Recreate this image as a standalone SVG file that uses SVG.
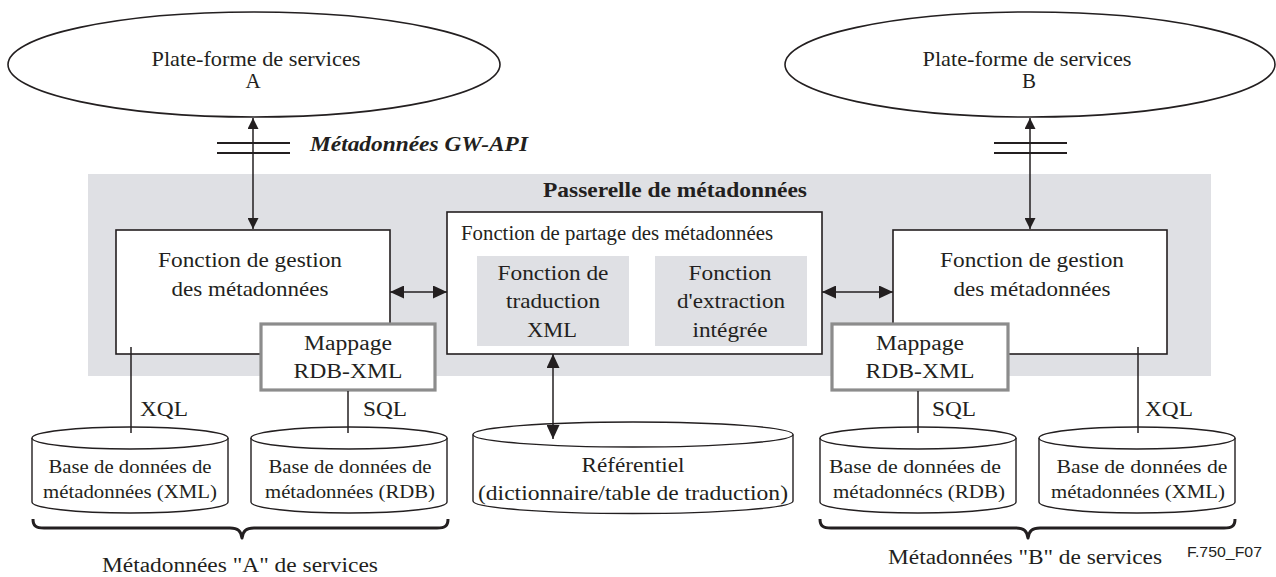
<svg xmlns="http://www.w3.org/2000/svg" width="1276" height="577" viewBox="0 0 1276 577">
<style>
.t{font-family:'Liberation Serif','Times New Roman',serif;fill:#231f20;}
.s21{font-size:21px;}
.s20{font-size:20px;}
.s18{font-size:18px;}
.mid{text-anchor:middle;}
.box{fill:#fff;stroke:#231f20;stroke-width:1.6;}
.map{fill:#fff;stroke:#8c8c8c;stroke-width:3.2;}
.inner{fill:#dfe0e4;stroke:none;}
.cyl{fill:#fff;stroke:#231f20;stroke-width:1.4;}
.ln{stroke:#231f20;stroke-width:1.5;fill:none;}
.bar{stroke:#231f20;stroke-width:2.2;}
.brace{stroke:#231f20;stroke-width:3;fill:none;stroke-linejoin:round;}
</style>
<defs>
<marker id="ah" viewBox="0 0 14 13" refX="14" refY="6.5" markerWidth="14" markerHeight="13" markerUnits="userSpaceOnUse" orient="auto-start-reverse">
<path d="M0,0 L14,6.5 L0,13 z" fill="#231f20"/>
</marker>
<marker id="ahs" viewBox="0 0 11 11" refX="11" refY="5.5" markerWidth="11" markerHeight="11" markerUnits="userSpaceOnUse" orient="auto-start-reverse">
<path d="M0,0 L11,5.5 L0,11 z" fill="#231f20"/>
</marker>
</defs>
<rect width="1276" height="577" fill="#fff"/>

<g id="gateway">
<rect x="88" y="174" width="1123" height="202" fill="#dfe0e4"/>
<text class="t" x="543" y="197" font-size="21" font-weight="bold" textLength="264" lengthAdjust="spacingAndGlyphs">Passerelle de métadonnées</text>
</g>

<g id="platform-a">
<ellipse cx="254" cy="64.5" rx="246" ry="52.5" class="box" stroke-width="1.3"/>
<text class="t s21 mid" x="256" y="66" textLength="209" lengthAdjust="spacingAndGlyphs">Plate-forme de services</text>
<text class="t s21 mid" x="253" y="88">A</text>
</g>

<g id="platform-b">
<ellipse cx="1030" cy="64.5" rx="245" ry="52.5" class="box" stroke-width="1.3"/>
<text class="t s21 mid" x="1027" y="66" textLength="209" lengthAdjust="spacingAndGlyphs">Plate-forme de services</text>
<text class="t s21 mid" x="1029" y="88">B</text>
</g>

<g id="api-label">
<text class="t s20" x="310" y="151" font-weight="bold" font-style="italic" textLength="218" lengthAdjust="spacingAndGlyphs">Métadonnées GW-API</text>
</g>

<g id="mgmt-a">
<rect x="116" y="230" width="274" height="124" class="box"/>
<text class="t s21 mid" x="250" y="267" textLength="184" lengthAdjust="spacingAndGlyphs">Fonction de gestion</text>
<text class="t s21 mid" x="250" y="296" textLength="157" lengthAdjust="spacingAndGlyphs">des métadonnées</text>
</g>

<g id="mgmt-b">
<rect x="893" y="230" width="274" height="124" class="box"/>
<text class="t s21 mid" x="1032" y="267" textLength="184" lengthAdjust="spacingAndGlyphs">Fonction de gestion</text>
<text class="t s21 mid" x="1032" y="296" textLength="157" lengthAdjust="spacingAndGlyphs">des métadonnées</text>
</g>

<g id="sharing">
<rect x="447" y="212" width="375" height="142" class="box"/>
<text class="t s20" x="461" y="240" textLength="312" lengthAdjust="spacingAndGlyphs">Fonction de partage des métadonnées</text>
</g>

<g id="translation">
<rect x="477" y="256" width="152" height="90" class="inner"/>
<text class="t s21 mid" x="553" y="280" textLength="111" lengthAdjust="spacingAndGlyphs">Fonction de</text>
<text class="t s21 mid" x="553" y="308" textLength="94" lengthAdjust="spacingAndGlyphs">traduction</text>
<text class="t s21 mid" x="552" y="337" textLength="50" lengthAdjust="spacingAndGlyphs">XML</text>
</g>

<g id="extraction">
<rect x="655" y="256" width="152" height="90" class="inner"/>
<text class="t s21 mid" x="730" y="280" textLength="83" lengthAdjust="spacingAndGlyphs">Fonction</text>
<text class="t s21 mid" x="731" y="308" textLength="108" lengthAdjust="spacingAndGlyphs">d'extraction</text>
<text class="t s21 mid" x="730" y="337" textLength="75" lengthAdjust="spacingAndGlyphs">intégrée</text>
</g>

<g id="mapping-a">
<rect x="261" y="324" width="174" height="66" class="map"/>
<text class="t s20 mid" x="348" y="350" textLength="88" lengthAdjust="spacingAndGlyphs">Mappage</text>
<text class="t s20 mid" x="348" y="378" textLength="109" lengthAdjust="spacingAndGlyphs">RDB-XML</text>
</g>

<g id="mapping-b">
<rect x="832" y="324" width="176" height="66" class="map"/>
<text class="t s20 mid" x="920" y="350" textLength="88" lengthAdjust="spacingAndGlyphs">Mappage</text>
<text class="t s20 mid" x="920" y="378" textLength="109" lengthAdjust="spacingAndGlyphs">RDB-XML</text>
</g>

<g id="db-xml-a">
<path class="cyl" d="M32,438 L32,502 A98,11 0 0 0 228,502 L228,438"/>
<ellipse class="cyl" cx="130" cy="438" rx="98" ry="11"/>
<text class="t s18 mid" x="130" y="473" textLength="163" lengthAdjust="spacingAndGlyphs">Base de données de</text>
<text class="t s18 mid" x="130" y="498" textLength="174" lengthAdjust="spacingAndGlyphs">métadonnées (XML)</text>
</g>

<g id="db-rdb-a">
<path class="cyl" d="M251,438 L251,502 A98,11 0 0 0 447,502 L447,438"/>
<ellipse class="cyl" cx="349" cy="438" rx="98" ry="11"/>
<text class="t s18 mid" x="350" y="473" textLength="163" lengthAdjust="spacingAndGlyphs">Base de données de</text>
<text class="t s18 mid" x="350" y="498" textLength="170" lengthAdjust="spacingAndGlyphs">métadonnées (RDB)</text>
</g>

<g id="repository">
<path class="cyl" d="M473,434.5 L473,501 A160,12.5 0 0 0 793,501 L793,434.5"/>
<ellipse class="cyl" cx="633" cy="434.5" rx="160" ry="12.5"/>
<text class="t s21 mid" x="633" y="472" textLength="103" lengthAdjust="spacingAndGlyphs">Référentiel</text>
<text class="t s21 mid" x="633" y="500" textLength="310" lengthAdjust="spacingAndGlyphs">(dictionnaire/table de traduction)</text>
</g>

<g id="db-rdb-b">
<path class="cyl" d="M820,438 L820,502 A98,11 0 0 0 1016,502 L1016,438"/>
<ellipse class="cyl" cx="918" cy="438" rx="98" ry="11"/>
<text class="t s18 mid" x="915" y="473" textLength="172" lengthAdjust="spacingAndGlyphs">Base de données de</text>
<text class="t s18 mid" x="919" y="498" textLength="172" lengthAdjust="spacingAndGlyphs">métadonnécs (RDB)</text>
</g>

<g id="db-xml-b">
<path class="cyl" d="M1039,438 L1039,502 A98,11 0 0 0 1235,502 L1235,438"/>
<ellipse class="cyl" cx="1137" cy="438" rx="98" ry="11"/>
<text class="t s18 mid" x="1142" y="473" textLength="171" lengthAdjust="spacingAndGlyphs">Base de données de</text>
<text class="t s18 mid" x="1138" y="498" textLength="174" lengthAdjust="spacingAndGlyphs">métadonnées (XML)</text>
</g>

<g id="group-a">
<path class="brace" d="M33,519 C33,526 36,528 44,528 L230,528 C238,528 241,531 242,538 C243,531 246,528 254,528 L437,528 C445,528 448,526 448,519"/>
<text class="t s20" x="102" y="572" textLength="276" lengthAdjust="spacingAndGlyphs">Métadonnées "A" de services</text>
</g>

<g id="group-b">
<path class="brace" d="M820,519 C820,526 823,528 831,528 L1016,528 C1024,528 1027,531 1028,538 C1029,531 1032,528 1040,528 L1224,528 C1232,528 1235,526 1235,519"/>
<text class="t s20" x="888" y="564" textLength="274" lengthAdjust="spacingAndGlyphs">Métadonnées "B" de services</text>
</g>

<g id="figure-id">
<text x="1187" y="557" font-family="Liberation Sans, Arial, sans-serif" font-size="14" fill="#231f20" textLength="75" lengthAdjust="spacingAndGlyphs">F.750_F07</text>
</g>

<g id="connectors">
<line class="ln" x1="253" y1="118" x2="253" y2="229" marker-start="url(#ahs)" marker-end="url(#ahs)"/>
<line class="bar" x1="217" y1="143" x2="290" y2="143"/>
<line class="bar" x1="217" y1="153" x2="290" y2="153"/>
<line class="ln" x1="1030" y1="118" x2="1030" y2="229" marker-start="url(#ahs)" marker-end="url(#ahs)"/>
<line class="bar" x1="994" y1="143" x2="1067" y2="143"/>
<line class="bar" x1="994" y1="153" x2="1067" y2="153"/>
<line class="ln" x1="390" y1="292" x2="447" y2="292" marker-start="url(#ah)" marker-end="url(#ah)"/>
<line class="ln" x1="822" y1="292" x2="893" y2="292" marker-start="url(#ah)" marker-end="url(#ah)"/>
<line class="ln" x1="553" y1="354" x2="553" y2="439" marker-start="url(#ah)" marker-end="url(#ah)"/>
<line class="ln" x1="131" y1="347" x2="131" y2="433"/>
<text class="t s21" x="140" y="416" textLength="48" lengthAdjust="spacingAndGlyphs">XQL</text>
<line class="ln" x1="348" y1="391" x2="348" y2="433"/>
<text class="t s21" x="363" y="416" textLength="44" lengthAdjust="spacingAndGlyphs">SQL</text>
<line class="ln" x1="918" y1="391" x2="918" y2="433"/>
<text class="t s21" x="932" y="416" textLength="44" lengthAdjust="spacingAndGlyphs">SQL</text>
<line class="ln" x1="1138" y1="347" x2="1138" y2="433"/>
<text class="t s21" x="1145" y="416" textLength="48" lengthAdjust="spacingAndGlyphs">XQL</text>
</g>
</svg>
